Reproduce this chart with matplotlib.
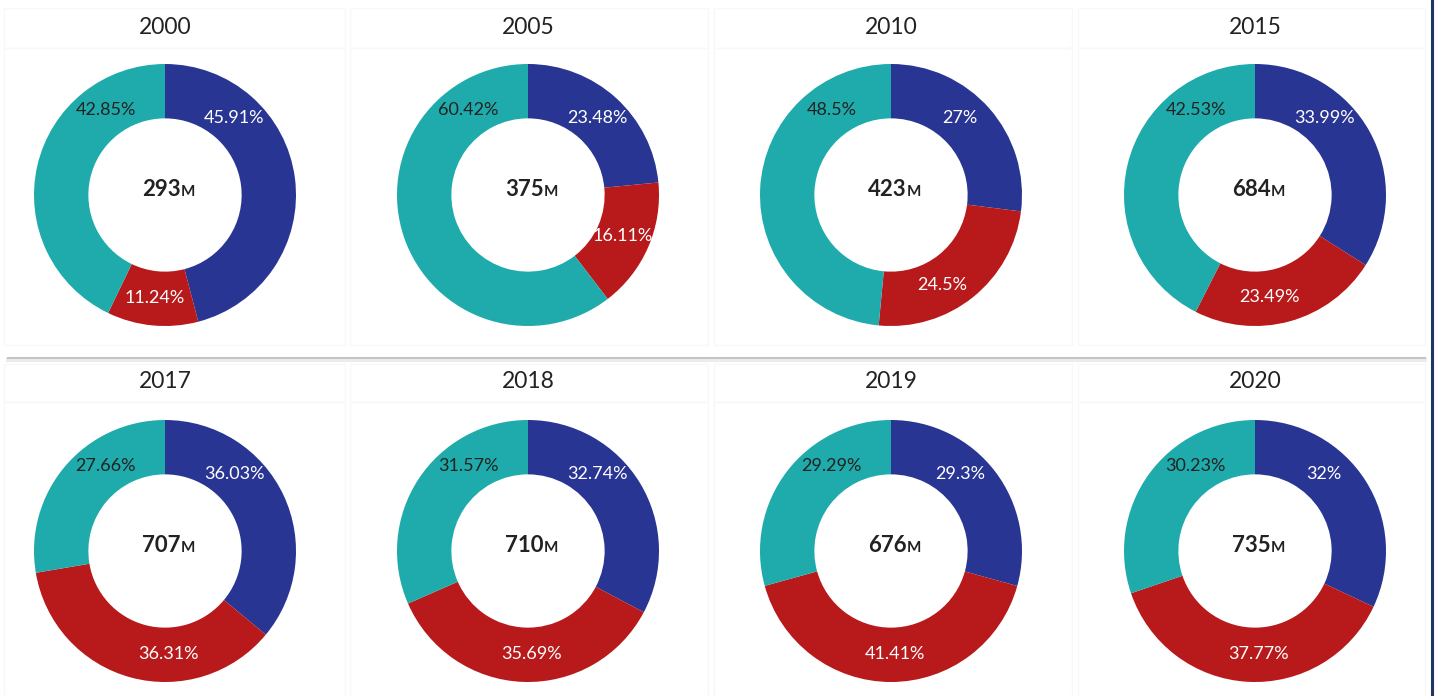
import math
import matplotlib.pyplot as plt
from matplotlib.patches import Rectangle
from matplotlib.lines import Line2D

# data
years = ['2000', '2005', '2010', '2015', '2017', '2018', '2019', '2020']
totals = ['293', '375', '423', '684', '707', '710', '676', '735']
blue_share = [45.91, 23.48, 27, 33.99, 36.03, 32.74, 29.3, 32]
red_share = [11.24, 16.11, 24.5, 23.49, 36.31, 35.69, 41.41, 37.77]
teal_share = [42.85, 60.42, 48.5, 42.53, 27.66, 31.57, 29.29, 30.23]

colors = ['#293593', '#b8191b', '#1fabab']
label_colors = ['white', 'white', '#222222']
# preferred label angle (clockwise from top) for each series
label_target = [42, 178, 328]

W, H = 1440, 696
R = 131
col_x = [165, 528, 891, 1255]
row_y = [195, 551]
title_y = [27, 381]

plt.rcParams['font.family'] = ['Lato', 'DejaVu Sans']

fig = plt.figure(figsize=(W / 100, H / 100), dpi=100)
fig.patch.set_facecolor('white')

# faint cell borders
cells_x = [(4, 345), (350, 708), (714, 1072), (1078, 1425)]
for top, bot in [(8, 48), (48, 345), (364, 402), (402, 696)]:
    for x0, x1 in cells_x:
        fig.patches.append(Rectangle((x0 / W, 1 - bot / H), (x1 - x0) / W, (bot - top) / H,
                                     transform=fig.transFigure, fill=False,
                                     edgecolor='#f8f8f8', lw=1))

# row separator and right border
fig.add_artist(Line2D([8 / W, 1425 / W], [1 - 360 / H] * 2, color='#ececec', lw=3))
fig.add_artist(Line2D([8 / W, 1425 / W], [1 - 358 / H] * 2, color='#c4c4c4', lw=1.5))
fig.add_artist(Line2D([1432 / W] * 2, [0, 1], color='#1f3566', lw=2.2))


def label_angle(a, b, target):
    m = min((b - a) / 2, 35)
    return min(max(target, a + m), b - m)


for i, year in enumerate(years):
    r, c = divmod(i, 4)
    cx, cy = col_x[c], row_y[r]
    ax = fig.add_axes([(cx - R) / W, (H - cy - R) / H, 2 * R / W, 2 * R / H])
    vals = [blue_share[i], red_share[i], teal_share[i]]
    ax.pie(vals, colors=colors, startangle=90, counterclock=False, radius=1,
           wedgeprops=dict(width=0.415, linewidth=0))
    ax.set_xlim(-1, 1)
    ax.set_ylim(-1, 1)
    ax.set_aspect('equal')
    ax.axis('off')

    total = sum(vals)
    start = 0
    for k, v in enumerate(vals):
        span = v / total * 360
        t = math.radians(label_angle(start, start + span, label_target[k]))
        rr = 0.79
        ax.text(rr * math.sin(t), rr * math.cos(t), f'{v:g}%', ha='center', va='center',
                color=label_colors[k], fontsize=13)
        start += span

    ax.text(0.12, -0.005, totals[i], ha='right', va='baseline', fontsize=16,
            fontweight='bold', color='#222222')
    ax.text(0.12, -0.005, 'M', ha='left', va='baseline', fontsize=11,
            fontweight='bold', color='#222222')

    fig.text(cx / W, 1 - title_y[r] / H, year, ha='center', va='center',
             fontsize=16.5, color='#222222')

fig.savefig('out.png', dpi=100)
